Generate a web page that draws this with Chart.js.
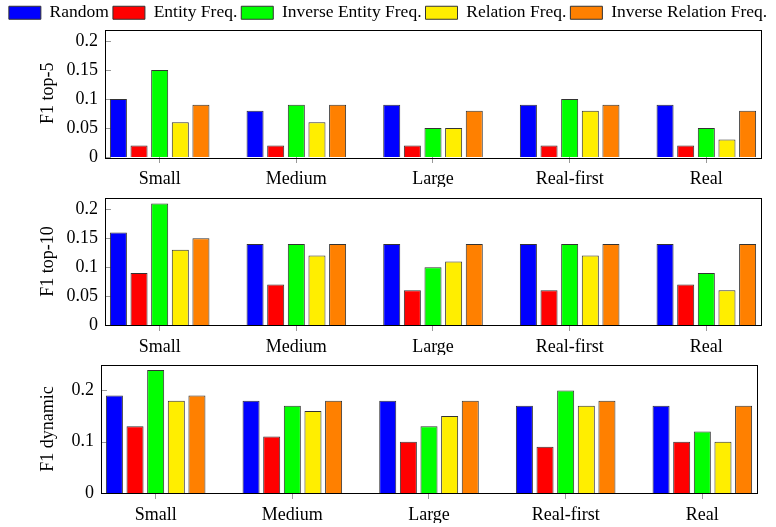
<!DOCTYPE html>
<html>
<head>
<meta charset="utf-8">
<script src="https://cdn.jsdelivr.net/npm/chart.js@4/dist/chart.umd.min.js"></script>
<style>
  html, body { margin: 0; padding: 0; background: #fff; }
  #wrap { position: relative; width: 776px; height: 527px; overflow: hidden; }
  canvas { position: absolute; left: 0; }
</style>
</head>
<body>
<div id="wrap">
  <canvas id="c1" width="776" height="187" style="top:0px"></canvas>
  <canvas id="c2" width="776" height="175" style="top:179.6px"></canvas>
  <canvas id="c3" width="776" height="180" style="top:347.2px"></canvas>
</div>
<script>
// ---- data ----
const categories = ['Small', 'Medium', 'Large', 'Real-first', 'Real'];
const seriesNames = ['Random', 'Entity Freq.', 'Inverse Entity Freq.', 'Relation Freq.', 'Inverse Relation Freq.'];

// F1 top-5
const top5_random          = [0.10, 0.08, 0.09, 0.09, 0.09];
const top5_entityFreq      = [0.02, 0.02, 0.02, 0.02, 0.02];
const top5_invEntityFreq   = [0.15, 0.09, 0.05, 0.10, 0.05];
const top5_relationFreq    = [0.06, 0.06, 0.05, 0.08, 0.03];
const top5_invRelationFreq = [0.09, 0.09, 0.08, 0.09, 0.08];

// F1 top-10
const top10_random          = [0.16, 0.14, 0.14, 0.14, 0.14];
const top10_entityFreq      = [0.09, 0.07, 0.06, 0.06, 0.07];
const top10_invEntityFreq   = [0.21, 0.14, 0.10, 0.14, 0.09];
const top10_relationFreq    = [0.13, 0.12, 0.11, 0.12, 0.06];
const top10_invRelationFreq = [0.15, 0.14, 0.14, 0.14, 0.14];

// F1 dynamic
const dyn_random          = [0.19, 0.18, 0.18, 0.17, 0.17];
const dyn_entityFreq      = [0.13, 0.11, 0.10, 0.09, 0.10];
const dyn_invEntityFreq   = [0.24, 0.17, 0.13, 0.20, 0.12];
const dyn_relationFreq    = [0.18, 0.16, 0.15, 0.17, 0.10];
const dyn_invRelationFreq = [0.19, 0.18, 0.18, 0.18, 0.17];

// tick labels
const top5Ticks  = [0, 0.05, 0.1, 0.15, 0.2];
const top10Ticks = [0, 0.05, 0.1, 0.15, 0.2];
const dynTicks   = [0, 0.1, 0.2];

// ---- styles ----
const colors = ['#0000ff', '#ff0000', '#00ff00', '#ffee00', '#ff8000'];
const FONT = "'Liberation Serif', 'Times New Roman', serif";
Chart.defaults.font.family = FONT;
Chart.defaults.font.size = 18;
Chart.defaults.color = '#000';

const framePlugin = {
  id: 'frame',
  beforeDatasetsDraw(chart) {
    const { ctx, chartArea: a, scales: { y } } = chart;
    ctx.save();
    ctx.strokeStyle = '#999';
    ctx.lineWidth = 1;
    y.ticks.forEach(t => {
      const py = Math.round(y.getPixelForValue(t.value)) + 0.5;
      ctx.beginPath();
      ctx.moveTo(a.left, py);
      ctx.lineTo(a.left + 6, py);
      ctx.stroke();
    });
    ctx.restore();
  },
  afterDraw(chart) {
    const { ctx, chartArea: a } = chart;
    ctx.save();
    ctx.strokeStyle = '#000';
    ctx.lineWidth = 1;
    ctx.strokeRect(Math.round(a.left) + 0.5, Math.round(a.top) + 0.5,
                   Math.round(a.right - a.left), Math.round(a.bottom - a.top));
    ctx.restore();
  }
};

const legendHeightPlugin = {
  id: 'legendHeight',
  beforeInit(chart) {
    if (!chart.legend) return;
    const orig = chart.legend.fit;
    chart.legend.fit = function () {
      orig.call(this);
      this.height = 29.5;
    };
  }
};

function makeDatasets(seriesArrays) {
  return seriesArrays.map((arr, i) => ({
    label: seriesNames[i],
    data: arr.map((v, k) => ({ x: k, y: v })),
    backgroundColor: colors[i],
    borderColor: '#333',
    borderWidth: 1,
    categoryPercentage: 0.755,
    barPercentage: 0.825
  }));
}

function makeChart(id, seriesArrays, title, yMax, yTicks, leftW, rightW, showLegend, padTop, padBottom) {
  const plugins = [framePlugin];
  if (showLegend) plugins.push(legendHeightPlugin);
  return new Chart(document.getElementById(id), {
    type: 'bar',
    data: { datasets: makeDatasets(seriesArrays) },
    plugins: plugins,
    options: {
      responsive: false,
      animation: false,
      layout: { padding: { top: padTop, bottom: padBottom, left: 0, right: 0 } },
      plugins: {
        tooltip: { enabled: false },
        legend: {
          display: showLegend,
          position: 'top',
          align: 'center',
          labels: {
            boxWidth: 32,
            boxHeight: 13,
            padding: 4,
            color: '#000',
            font: { family: FONT, size: 17.5 }
          }
        }
      },
      scales: {
        x: {
          type: 'linear',
          min: -0.4,
          max: 4.4,
          offset: false,
          border: { display: false },
          grid: { offset: false, drawOnChartArea: false, drawTicks: true, tickLength: 6, color: '#999' },
          ticks: {
            autoSkip: false,
            maxRotation: 0,
            padding: 5,
            color: '#000',
            font: { family: FONT, size: 18 },
            callback: (v) => categories[Math.round(v)]
          },
          afterBuildTicks: (s) => { s.ticks = categories.map((c, i) => ({ value: i })); },
          afterFit: (s) => { s.height = 30; }
        },
        y: {
          type: 'linear',
          position: 'left',
          min: 0,
          max: yMax,
          border: { display: false },
          grid: { display: false, drawTicks: false },
          ticks: {
            padding: 7,
            color: '#000',
            font: { family: FONT, size: 18 },
            callback: (v) => String(+Number(v).toFixed(2))
          },
          afterBuildTicks: (s) => { s.ticks = yTicks.map(v => ({ value: v })); },
          afterFit: (s) => { s.width = leftW; },
          title: {
            display: true,
            text: title,
            color: '#000',
            font: { family: FONT, size: 18 },
            padding: { top: 37, bottom: 0 }
          }
        },
        yRight: {
          type: 'linear',
          position: 'right',
          display: true,
          border: { display: false },
          grid: { display: false, drawTicks: false },
          ticks: { display: false },
          afterFit: (s) => { s.width = rightW; }
        }
      }
    }
  });
}

makeChart('c1',
  [top5_random, top5_entityFreq, top5_invEntityFreq, top5_relationFreq, top5_invRelationFreq],
  'F1 top-5', 0.22, top5Ticks, 105, 15, true, 0, 0);

makeChart('c2',
  [top10_random, top10_entityFreq, top10_invEntityFreq, top10_relationFreq, top10_invRelationFreq],
  'F1 top-10', 0.22, top10Ticks, 105, 15, false, 0, 0);

makeChart('c3',
  [dyn_random, dyn_entityFreq, dyn_invEntityFreq, dyn_relationFreq, dyn_invRelationFreq],
  'F1 dynamic', 0.25, dynTicks, 101, 19, false, 0, 4);
</script>
</body>
</html>
